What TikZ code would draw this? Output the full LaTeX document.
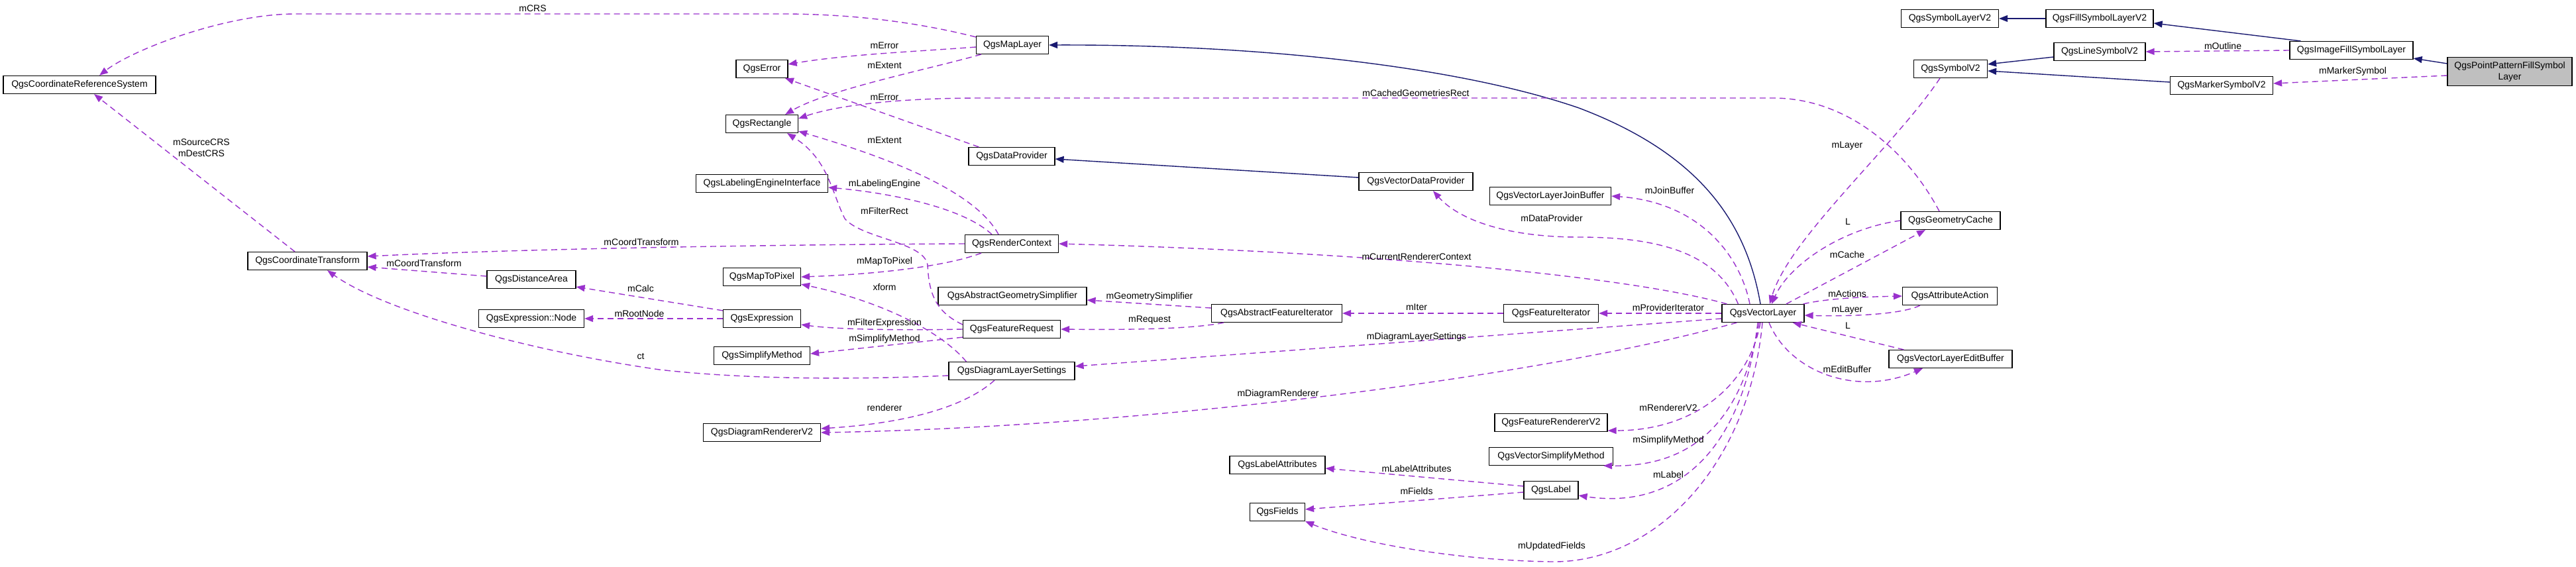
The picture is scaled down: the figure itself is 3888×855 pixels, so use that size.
\documentclass[tikz,border=0pt]{standalone}
\usepackage{fontspec}
\setmainfont{Liberation Sans}
\usetikzlibrary{arrows.meta,calc}
\definecolor{usecol}{HTML}{9A32CD}
\definecolor{inhcol}{HTML}{191970}
\definecolor{mainfill}{HTML}{BFBFBF}

\begin{document}
\begin{tikzpicture}[x=1pt, y=-1pt, font=\fontsize{14}{17}\selectfont,
    cls/.style={draw=black, line width=1.2pt, fill=white, minimum height=27pt, inner xsep=3pt, inner ysep=2pt},
    uses/.style={draw=usecol, line width=1.4pt, dash pattern=on 9pt off 6pt, -{Triangle[length=13pt,width=10pt]}},
    inh/.style={draw=inhcol, line width=1.4pt, -{Triangle[length=13pt,width=10pt]}},
    edgetext/.style={inner sep=1pt, text=black, align=center}]
            \useasboundingbox (0,0) rectangle (3888,855);

            % classes
            \node[cls, minimum width=230pt] (crs) at (120,128) {QgsCoordinateReferenceSystem};
            \node[cls, minimum width=180pt] (ct) at (464,394) {QgsCoordinateTransform};
            \node[cls, minimum width=134pt] (da) at (802,422) {QgsDistanceArea};
            \node[cls, minimum width=159pt] (enode) at (802,481) {QgsExpression::Node};
            \node[cls, minimum width=78pt] (err) at (1150,104) {QgsError};
            \node[cls, minimum width=109pt] (rect) at (1150,187) {QgsRectangle};
            \node[cls, minimum width=199pt] (lei) at (1150,277) {QgsLabelingEngineInterface};
            \node[cls, minimum width=117pt] (m2p) at (1150,418) {QgsMapToPixel};
            \node[cls, minimum width=117pt] (expr) at (1150,481) {QgsExpression};
            \node[cls, minimum width=145pt] (sm) at (1150,537) {QgsSimplifyMethod};
            \node[cls, minimum width=177pt] (drv2) at (1150,653) {QgsDiagramRendererV2};
            \node[cls, minimum width=109pt] (ml) at (1528,68) {QgsMapLayer};
            \node[cls, minimum width=130pt] (dp) at (1527,236) {QgsDataProvider};
            \node[cls, minimum width=141pt] (rc) at (1527,368) {QgsRenderContext};
            \node[cls, minimum width=224pt] (ags) at (1528,447) {QgsAbstractGeometrySimplifier};
            \node[cls, minimum width=147pt] (fr) at (1527,497) {QgsFeatureRequest};
            \node[cls, minimum width=190pt] (dls) at (1527,560) {QgsDiagramLayerSettings};
            \node[cls, minimum width=197pt] (afi) at (1927,473) {QgsAbstractFeatureIterator};
            \node[cls, minimum width=144pt] (la) at (1928,702) {QgsLabelAttributes};
            \node[cls, minimum width=83pt] (flds) at (1928,773) {QgsFields};
            \node[cls, minimum width=172pt] (vdp) at (2137,274) {QgsVectorDataProvider};
            \node[cls, minimum width=183pt] (jb) at (2340,296) {QgsVectorLayerJoinBuffer};
            \node[cls, minimum width=143pt] (fi) at (2341,473) {QgsFeatureIterator};
            \node[cls, minimum width=170pt] (frv2) at (2341,638) {QgsFeatureRendererV2};
            \node[cls, minimum width=187pt] (vsm) at (2341,689) {QgsVectorSimplifyMethod};
            \node[cls, minimum width=82pt] (qlbl) at (2341,740) {QgsLabel};
            \node[cls, minimum width=124pt] (vl) at (2661,473) {QgsVectorLayer};
            \node[cls, minimum width=147pt] (slv2) at (2943,28) {QgsSymbolLayerV2};
            \node[cls, minimum width=111pt] (sv2) at (2944,104) {QgsSymbolV2};
            \node[cls, minimum width=150pt] (gc) at (2944,333) {QgsGeometryCache};
            \node[cls, minimum width=143pt] (aa) at (2943,447) {QgsAttributeAction};
            \node[cls, minimum width=186pt] (eb) at (2944,542) {QgsVectorLayerEditBuffer};
            \node[cls, minimum width=162pt] (fsl) at (3169,28) {QgsFillSymbolLayerV2};
            \node[cls, minimum width=138pt] (lsv2) at (3169,78) {QgsLineSymbolV2};
            \node[cls, minimum width=155pt] (msv2) at (3353,129) {QgsMarkerSymbolV2};
            \node[cls, minimum width=186pt] (ifsl) at (3549,76) {QgsImageFillSymbolLayer};
            \node[cls, fill=mainfill, minimum width=188pt, minimum height=43pt, align=center] (pp) at (3788,108) {QgsPointPatternFillSymbol\\Layer};

            % inheritance
            \draw[inh] ($(pp.west)+(0,-12)$) -- ($(ifsl.south east)+(0,-2)$);
            \draw[inh] ($(ifsl.north west)+(17,0)$) -- ($(fsl.east)+(0,7)$);
            \draw[inh] (fsl.west) -- (slv2.east);
            \draw[inh] ($(lsv2.west)+(0,8)$) -- ($(sv2.east)+(0,-7)$);
            \draw[inh] ($(msv2.west)+(0,-5)$) -- ($(sv2.east)+(0,3)$);
            \draw[inh] ($(vl.north)+(-4,0)$) .. controls (2635,330) and (2560,230) .. (2383,163)
                .. controls (2200,100) and (1900,67) .. (ml.east);
            \draw[inh] ($(vdp.west)+(0,-6)$) -- ($(dp.east)+(0,4)$);

            % usage
            \draw[uses] ($(pp.west)+(0,6)$) -- ($(msv2.east)+(0,-3)$);
            \draw[uses] (ifsl.west) -- (lsv2.east);
            \draw[uses] ($(sv2.south)+(-16,0)$) .. controls (2860,220) and (2700,360) .. ($(vl.north)+(10,0)$);
            \draw[uses] ($(gc.north)+(-17,0)$) .. controls (2880,230) and (2790,148) .. (2676,148)
                -- (1480,148) .. controls (1350,148) and (1260,160) .. ($(rect.east)+(0,-8)$);
            \draw[uses] (gc.west) .. controls (2780,345) and (2700,400) .. ($(vl.north)+(13,0)$);
            \draw[uses] ($(vl.north)+(35,0)$) -- ($(gc.south)+(-38,0)$);
            \draw[uses] ($(vl.north)+(-20,0)$) .. controls (2625,380) and (2560,305) .. (jb.east);
            \draw[uses] ($(vl.north west)+(25,0)$) .. controls (2590,380) and (2500,358) .. (2383,358)
                .. controls (2270,358) and (2200,330) .. ($(vdp.south)+(26,0)$);
            \draw[uses] ($(vl.north west)+(8,0)$) .. controls (2450,415) and (2050,380) .. (rc.east);
            \draw[uses] (vl.west) -- (fi.east);
            \draw[uses] (fi.west) -- (afi.east);
            \draw[uses] ($(afi.west)+(0,-8)$) -- ($(ags.east)+(0,6)$);
            \draw[uses] ($(afi.south west)+(19,0)$) .. controls (1800,497) and (1700,498) .. (fr.east);
            \draw[uses] (fr.west) .. controls (1350,499) and (1260,497) .. ($(expr.east)+(0,9)$);
            \draw[uses] ($(fr.south west)+(0,-2)$) -- ($(sm.east)+(0,-3)$);
            \draw[uses] ($(fr.west)+(0,-7)$) .. controls (1410,470) and (1402,440) .. (1400,400)
                .. controls (1395,365) and (1300,360) .. (1275,330)
                .. controls (1255,290) and (1250,240) .. ($(rect.south)+(38,0)$);
            \draw[uses] ($(rc.north)+(-20,0)$) .. controls (1470,285) and (1330,235) .. ($(rect.south east)+(0,-3)$);
            \draw[uses] ($(rc.north)+(-30,0)$) .. controls (1450,310) and (1330,290) .. ($(lei.east)+(0,6)$);
            \draw[uses] ($(rc.south)+(-46,0)$) .. controls (1420,405) and (1300,415) .. (m2p.east);
            \draw[uses] (rc.west) .. controls (1200,369) and (800,375) .. ($(ct.east)+(0,-7)$);
            \draw[uses] ($(da.west)+(0,-5)$) -- ($(ct.east)+(0,9)$);
            \draw[uses] ($(ct.north)+(-19,0)$) -- ($(crs.south)+(22,0)$);
            \draw[uses] ($(ml.north west)+(0,2)$) .. controls (1370,30) and (1270,21) .. (1180,21)
                -- (446,21) .. controls (340,21) and (200,75) .. ($(crs.north)+(30,0)$);
            \draw[uses] ($(ml.west)+(0,3)$) .. controls (1380,78) and (1280,82) .. ($(err.east)+(0,-7)$);
            \draw[uses] ($(ml.south west)+(8,0)$) .. controls (1400,105) and (1250,135) .. ($(rect.north)+(35,0)$);
            \draw[uses] ($(dp.north west)+(16,0)$) -- ($(err.south)+(35,0)$);
            \draw[uses] ($(vl.west)+(0,8)$) -- ($(dls.east)+(0,-7)$);
            \draw[uses] ($(vl.south west)+(23,0)$) .. controls (2300,575) and (1700,645) .. (drv2.east);
            \draw[uses] ($(dls.south)+(-26,0)$) .. controls (1450,620) and (1350,640) .. ($(drv2.east)+(0,-6)$);
            \draw[uses] ($(dls.north west)+(27,0)$) .. controls (1420,500) and (1330,455) .. ($(m2p.south east)+(0,-3)$);
            \draw[uses] ($(dls.west)+(0,7)$) .. controls (1250,575) and (1100,570) .. (995,558)
                .. controls (800,530) and (580,470) .. ($(ct.south)+(30,0)$);
            \draw[uses] ($(expr.north west)+(0,2)$) -- ($(da.east)+(0,11)$);
            \draw[uses] (expr.west) -- (enode.east);
            \draw[uses] ($(aa.south west)+(27,0)$) .. controls (2870,475) and (2790,478) .. ($(vl.east)+(0,3)$);
            \draw[uses] ($(vl.north east)+(-2,0)$) .. controls (2760,450) and (2820,448) .. (aa.west);
            \draw[uses] ($(eb.north west)+(23,0)$) -- ($(vl.south east)+(-18,0)$);
            \draw[uses] ($(vl.south)+(9,0)$) .. controls (2700,560) and (2800,600) .. ($(eb.south)+(-42,0)$);
            \draw[uses] ($(vl.south)+(-4,0)$) .. controls (2640,580) and (2560,650) .. ($(frv2.south east)+(0,-2)$);
            \draw[uses] ($(vl.south)+(-6,0)$) .. controls (2630,630) and (2560,705) .. ($(vsm.south east)+(-15,0)$);
            \draw[uses] ($(vl.south)+(-8,0)$) .. controls (2630,680) and (2530,770) .. ($(qlbl.east)+(0,8)$);
            \draw[uses] ($(qlbl.west)+(0,-6)$) -- ($(la.east)+(0,5)$);
            \draw[uses] ($(qlbl.west)+(0,3)$) -- ($(flds.east)+(0,-4)$);
            \draw[uses] ($(vl.south)+(-1,0)$) .. controls (2640,700) and (2500,850) .. (2342,848)
                .. controls (2200,846) and (2050,820) .. (flds.south east);

            % edge labels
            \node[edgetext] (t-mcrs) at (804,13) {mCRS};
            \node[edgetext] (t-srcdest) at (304,223) {mSourceCRS\\mDestCRS};
            \node[edgetext] (t-mct1) at (968,365) {mCoordTransform};
            \node[edgetext] (t-mct2) at (640,397) {mCoordTransform};
            \node[edgetext] (t-mcalc) at (967,435) {mCalc};
            \node[edgetext] (t-mroot) at (965,473) {mRootNode};
            \node[edgetext] (t-ct) at (967,538) {ct};
            \node[edgetext] (t-merr1) at (1335,69) {mError};
            \node[edgetext] (t-mext1) at (1335,99) {mExtent};
            \node[edgetext] (t-merr2) at (1335,147) {mError};
            \node[edgetext] (t-mext2) at (1335,212) {mExtent};
            \node[edgetext] (t-mlab) at (1335,278) {mLabelingEngine};
            \node[edgetext] (t-mfrect) at (1335,318) {mFilterRect};
            \node[edgetext] (t-mm2p) at (1335,395) {mMapToPixel};
            \node[edgetext] (t-xform) at (1335,433) {xform};
            \node[edgetext] (t-mfexpr) at (1335,488) {mFilterExpression};
            \node[edgetext] (t-msm1) at (1335,512) {mSimplifyMethod};
            \node[edgetext] (t-rend) at (1335,615) {renderer};
            \node[edgetext] (t-mgs) at (1735,448) {mGeometrySimplifier};
            \node[edgetext] (t-mreq) at (1735,483) {mRequest};
            \node[edgetext] (t-mdr) at (1929,595) {mDiagramRenderer};
            \node[edgetext] (t-mcgr) at (2137,140) {mCachedGeometriesRect};
            \node[edgetext] (t-mcrc) at (2138,387) {mCurrentRendererContext};
            \node[edgetext] (t-miter) at (2138,464) {mIter};
            \node[edgetext] (t-mdls) at (2138,509) {mDiagramLayerSettings};
            \node[edgetext] (t-mlabattr) at (2138,707) {mLabelAttributes};
            \node[edgetext] (t-mfields) at (2138,741) {mFields};
            \node[edgetext] (t-mdp) at (2342,329) {mDataProvider};
            \node[edgetext] (t-mupd) at (2342,825) {mUpdatedFields};
            \node[edgetext] (t-mjb) at (2520,287) {mJoinBuffer};
            \node[edgetext] (t-mpi) at (2518,464) {mProviderIterator};
            \node[edgetext] (t-mrv2) at (2518,615) {mRendererV2};
            \node[edgetext] (t-msm2) at (2518,665) {mSimplifyMethod};
            \node[edgetext] (t-mlabel) at (2518,716) {mLabel};
            \node[edgetext] (t-mlayer1) at (2788,220) {mLayer};
            \node[edgetext] (t-l1) at (2789,335) {L};
            \node[edgetext] (t-mcache) at (2788,384) {mCache};
            \node[edgetext] (t-mact) at (2788,443) {mActions};
            \node[edgetext] (t-mlayer2) at (2788,468) {mLayer};
            \node[edgetext] (t-l2) at (2789,492) {L};
            \node[edgetext] (t-meb) at (2788,557) {mEditBuffer};
            \node[edgetext] (t-mout) at (3355,69) {mOutline};
            \node[edgetext] (t-mms) at (3551,108) {mMarkerSymbol};
        \end{tikzpicture}
\end{document}
